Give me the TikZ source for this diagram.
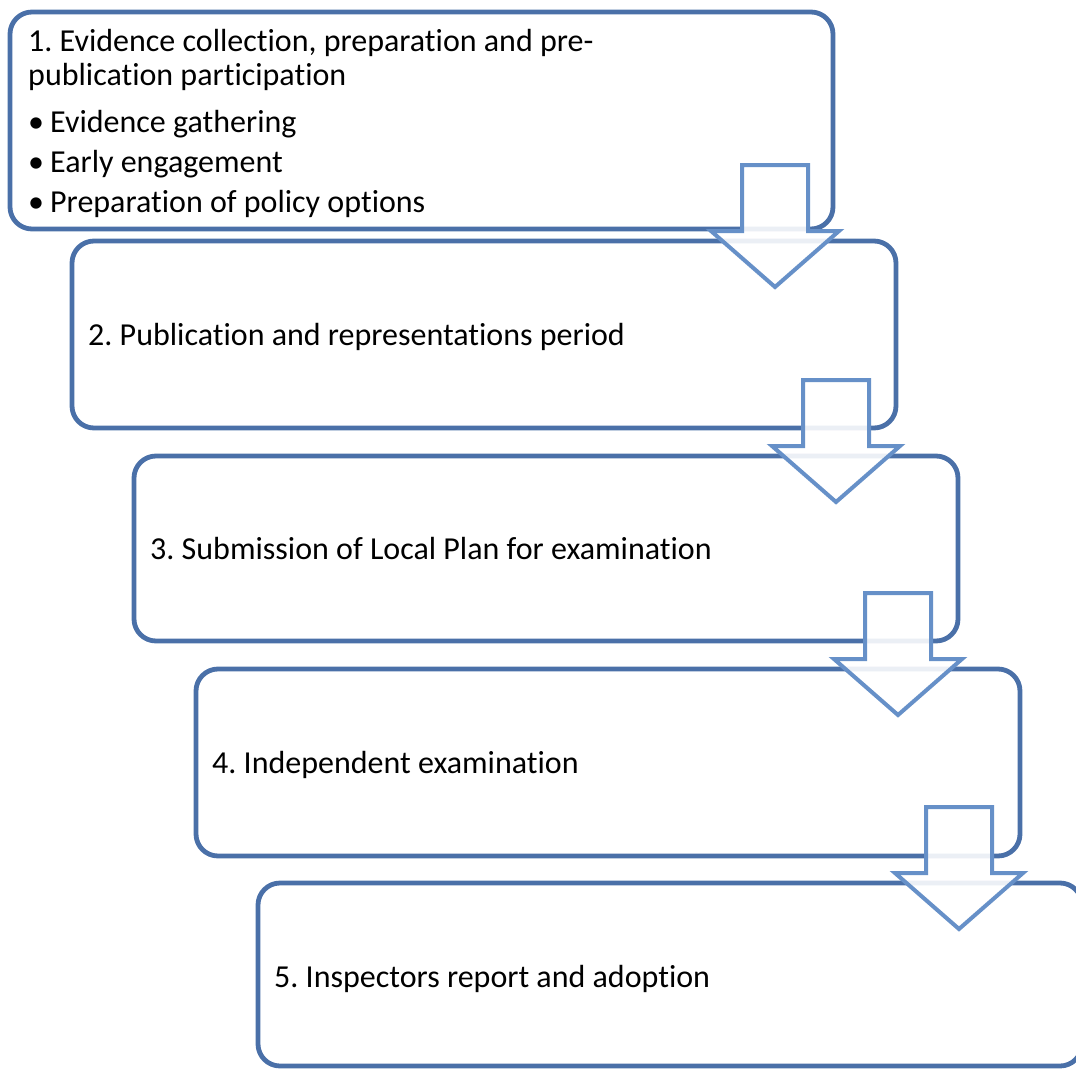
\documentclass[tikz,border=0pt]{standalone}
\usepackage{fontspec}
\setmainfont{Carlito}[Ligatures=NoCommon]
\frenchspacing
\definecolor{boxblue}{HTML}{4A70A8}
\definecolor{arrowblue}{HTML}{6690C8}
\begin{document}
\begin{tikzpicture}[x=1pt,y=-1pt,
  stepbox/.style={draw=boxblue,line width=4.8pt,rounded corners=22pt,fill=white},
  txt/.style={inner sep=0pt,anchor=base west,font=\fontsize{32}{38}\selectfont,text=black},
  blockarrow/.style={draw=arrowblue,line width=4pt,fill=white,fill opacity=0.89,line join=miter}]
\useasboundingbox (0,0) rectangle (1076,1068);
\clip (0,0) rectangle (1076,1068);
% boxes
\draw[stepbox] (10,12) rectangle (833,229) coordinate (b1);
\draw[stepbox] (72,241) rectangle (896,428) coordinate (b2);
\draw[stepbox] (134,456) rectangle (958,641) coordinate (b3);
\draw[stepbox] (196,669) rectangle (1020,856) coordinate (b4);
\draw[stepbox] (258,883) rectangle (1082,1066) coordinate (b5);
% texts
\node[txt] (t1a) at (28,51) {1. Evidence collection, preparation and pre-};
\node[txt] (t1b) at (28,85) {publication participation};
\node[txt] (t1c) at (28,132) {\makebox[22pt][l]{•}Evidence gathering};
\node[txt] (t1d) at (28,172) {\makebox[22pt][l]{•}Early engagement};
\node[txt] (t1e) at (28,212) {\makebox[22pt][l]{•}Preparation of policy options};
\node[txt] (t2) at (88,345) {2. Publication and representations period};
\node[txt] (t3) at (150,559) {3. Submission of Local Plan for examination};
\node[txt] (t4) at (212,773) {4. Independent examination};
\node[txt] (t5) at (274,987) {5. Inspectors report and adoption};
% block arrows
\foreach \cx/\ty/\nm in {775/165/a1, 836/380/a2, 898/593/a3, 959/807/a4}{
  \coordinate (\nm) at (\cx,\ty);
  \draw[blockarrow] (\nm) ++(-33,0) -- ++(0,66) -- ++(-31,0) -- ++(64,56) -- ++(64,-56) -- ++(-31,0) -- ++(0,-66) -- cycle;
}
\end{tikzpicture}
\end{document}
